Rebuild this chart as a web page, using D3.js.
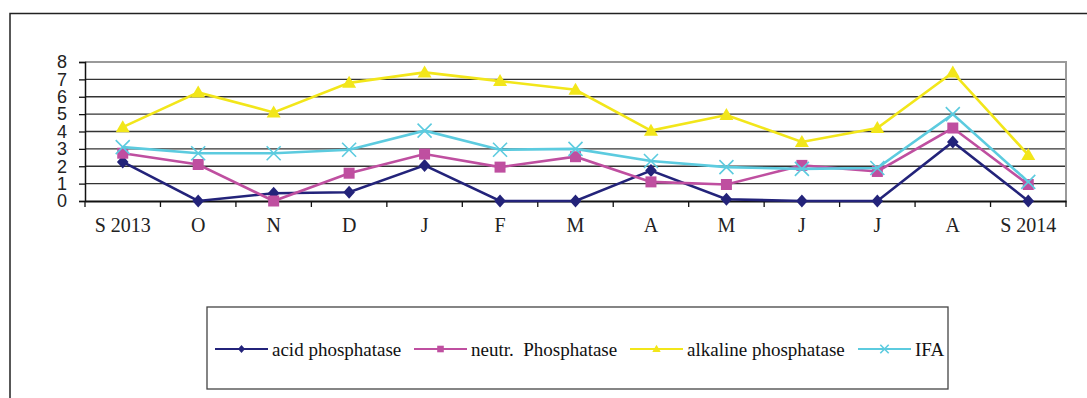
<!DOCTYPE html>
<html>
<head>
<meta charset="UTF-8">
<script src="https://cdn.jsdelivr.net/npm/d3@7"></script>
<style>
  body { margin: 0; background: #fff; }
  svg { display: block; }
  .serif { font-family: "Liberation Serif", "Times New Roman", serif; }
  .sans { font-family: "Liberation Sans", Arial, sans-serif; }
</style>
</head>
<body>
<svg id="canvas"></svg>
<script>
  width = 1087;
  height = 398;

  months = ["S 2013", "O", "N", "D", "J", "F", "M", "A", "M", "J", "J", "A", "S 2014"];
  acid = [2.25, 0, 0.45, 0.5, 2.05, 0, 0, 1.75, 0.1, 0, 0, 3.4, 0];
  neutr = [2.75, 2.1, 0, 1.6, 2.7, 1.95, 2.55, 1.1, 0.95, 2.05, 1.7, 4.2, 0.95];
  alkaline = [4.25, 6.25, 5.1, 6.8, 7.4, 6.9, 6.4, 4.05, 4.95, 3.4, 4.2, 7.4, 2.65];
  ifa = [3.1, 2.75, 2.75, 2.95, 4.05, 2.95, 3.0, 2.3, 1.95, 1.85, 1.9, 5.0, 1.1];
  yTicks = [0, 1, 2, 3, 4, 5, 6, 7, 8];

  series = [
    { name: "acid phosphatase", values: acid, color: "#23237a", marker: "diamond" },
    { name: "neutr.\u00a0 Phosphatase", values: neutr, color: "#bf4fa0", marker: "square" },
    { name: "alkaline phosphatase", values: alkaline, color: "#f2e61a", marker: "triangle" },
    { name: "IFA", values: ifa, color: "#5ccbdf", marker: "cross" }
  ];

  plot = { left: 85, right: 1066, top: 62, bottom: 201 };

  svg = d3.select("#canvas").attr("width", width).attr("height", height);

  // outer frame (top and left only visible)
  svg.append("path")
    .attr("d", "M10,398 V13.5 H1087")
    .attr("fill", "none").attr("stroke", "#222").attr("stroke-width", 1.5);

  x = d3.scaleBand().domain(d3.range(months.length)).range([plot.left, plot.right]);
  y = d3.scaleLinear().domain([0, 8]).range([plot.bottom, plot.top]);

  chart = svg.append("g");

  // gridlines
  chart.append("g").selectAll("line")
    .data(yTicks.slice(1, -1)).enter().append("line")
      .attr("x1", plot.left).attr("x2", plot.right)
      .attr("y1", d => y(d)).attr("y2", d => y(d))
      .attr("stroke", "#333").attr("stroke-width", 1.3);

  // plot area border top/right (gray)
  chart.append("path")
    .attr("d", `M${plot.left},${plot.top} H${plot.right} V${plot.bottom}`)
    .attr("fill", "none").attr("stroke", "#9a9a9a").attr("stroke-width", 2);

  // y axis
  yAxis = chart.append("g")
    .attr("transform", `translate(${plot.left},0)`)
    .call(d3.axisLeft(y).tickValues(yTicks).tickSize(6).tickPadding(12).tickFormat(d3.format("d")));
  yAxis.attr("font-family", null);
  yAxis.select(".domain").attr("stroke", "#111").attr("stroke-width", 1.5);
  yAxis.selectAll(".tick line").attr("stroke", "#111").attr("stroke-width", 1.3);
  yAxis.selectAll("text")
    .attr("class", "sans")
    .attr("font-size", 18).attr("fill", "#222");

  // x axis
  xAxis = chart.append("g")
    .attr("transform", `translate(0,${plot.bottom})`)
    .call(d3.axisBottom(x).tickSize(0).tickPadding(17).tickFormat(i => months[i]));
  xAxis.attr("font-family", null);
  xAxis.select(".domain").attr("stroke", "#111").attr("stroke-width", 1.8);
  xAxis.selectAll("text")
    .attr("class", "serif")
    .attr("font-size", 20).attr("fill", "#222");
  xAxis.selectAll(".bound")
    .data(d3.range(months.length + 1)).enter().append("line")
      .attr("class", "bound")
      .attr("x1", i => plot.left + i * x.step()).attr("x2", i => plot.left + i * x.step())
      .attr("y1", 0).attr("y2", 6)
      .attr("stroke", "#111").attr("stroke-width", 1.3);

  function markerPath(type, k) {
    const p = d3.path();
    if (type === "diamond") {
      p.moveTo(0, -6.5 * k); p.lineTo(5.8 * k, 0); p.lineTo(0, 6.5 * k); p.lineTo(-5.8 * k, 0); p.closePath();
    } else if (type === "square") {
      p.rect(-5.5 * k, -5.5 * k, 11 * k, 11 * k);
    } else if (type === "triangle") {
      p.moveTo(0, -7 * k); p.lineTo(7 * k, 5 * k); p.lineTo(-7 * k, 5 * k); p.closePath();
    } else {
      p.moveTo(-7 * k, -7 * k); p.lineTo(7 * k, 7 * k);
      p.moveTo(-7 * k, 7 * k); p.lineTo(7 * k, -7 * k);
    }
    return p.toString();
  }

  function drawMarker(g, s, cx, cy, k) {
    const m = g.append("path")
      .attr("d", markerPath(s.marker, k))
      .attr("transform", `translate(${cx},${cy})`);
    if (s.marker === "cross") m.attr("fill", "none").attr("stroke", s.color).attr("stroke-width", 1.6);
    else m.attr("fill", s.color);
  }

  line = d3.line()
    .x((d, i) => x(i) + x.bandwidth() / 2)
    .y(d => y(d));

  series.forEach(s => {
    g = chart.append("g");
    g.append("path")
      .attr("d", line(s.values))
      .attr("fill", "none").attr("stroke", s.color).attr("stroke-width", 2.6);
    s.values.forEach((v, i) => drawMarker(g, s, x(i) + x.bandwidth() / 2, y(v), 1));
  });

  // legend
  legend = svg.append("g");
  legend.append("rect")
    .attr("x", 207).attr("y", 307).attr("width", 741).attr("height", 82)
    .attr("fill", "#fff").attr("stroke", "#444").attr("stroke-width", 1.3);

  legendX = [215, 414, 630, 858];
  series.forEach((s, i) => {
    lg = legend.append("g");
    lx = legendX[i];
    lg.append("line")
      .attr("x1", lx).attr("x2", lx + 53).attr("y1", 349).attr("y2", 349)
      .attr("stroke", s.color).attr("stroke-width", 2.2);
    drawMarker(lg, s, lx + 26.5, 349, 0.6);
    lg.append("text")
      .attr("class", "serif")
      .attr("x", lx + 57).attr("y", 356)
      .attr("font-size", 19).attr("fill", "#111")
      .text(s.name);
  });
</script>
</body>
</html>
